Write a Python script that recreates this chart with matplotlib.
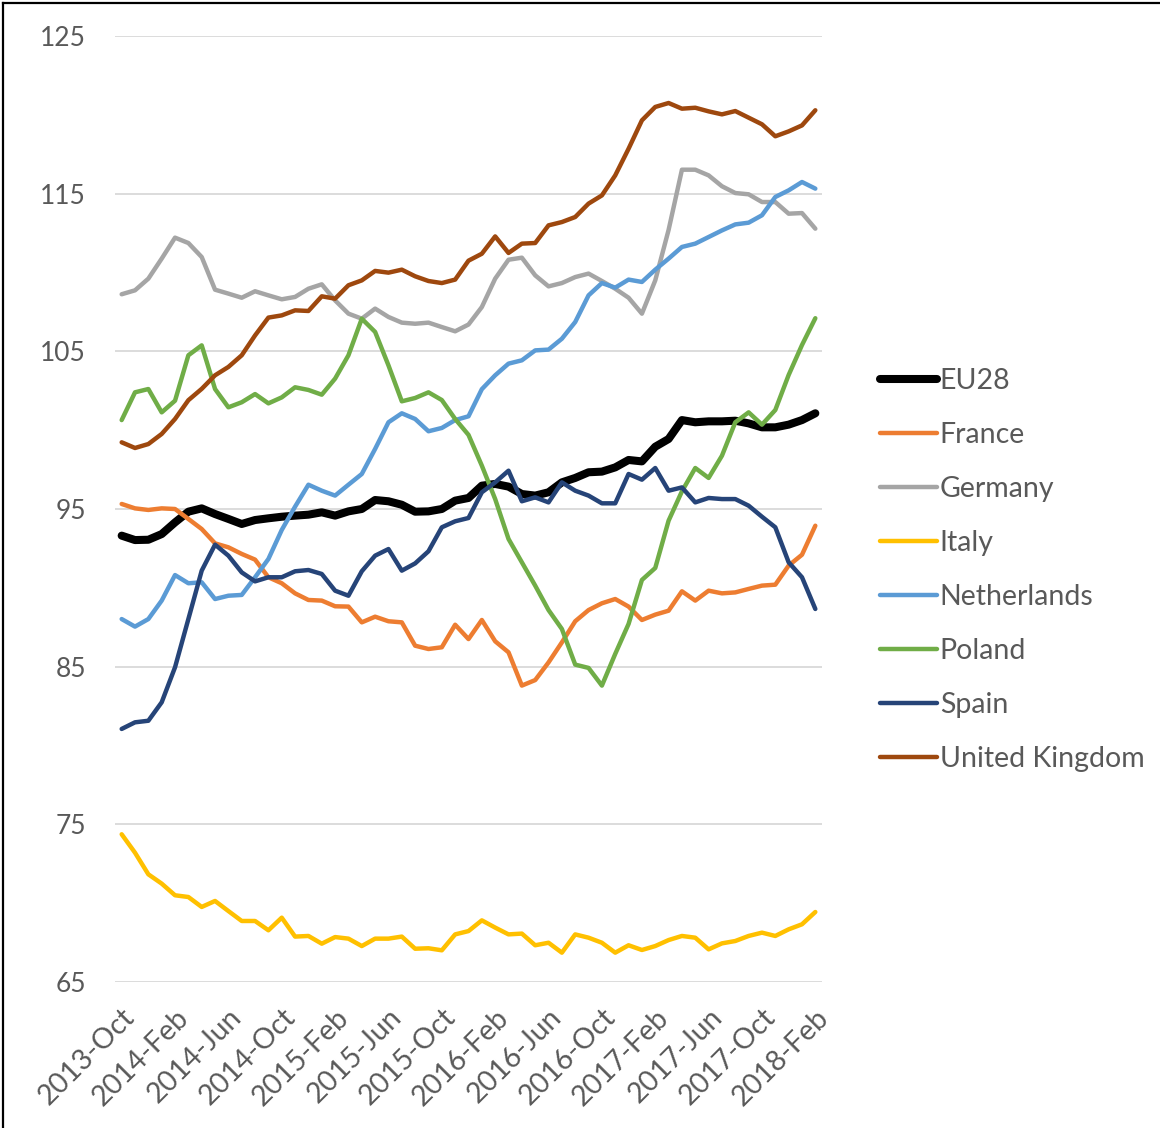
import numpy as np
import matplotlib.pyplot as plt
from matplotlib.lines import Line2D

plt.rcParams['font.family'] = ['Lato', 'DejaVu Sans']

# monthly index values, 2013-Oct .. 2018-Feb
months = ['Jan', 'Feb', 'Mar', 'Apr', 'May', 'Jun', 'Jul', 'Aug', 'Sep', 'Oct', 'Nov', 'Dec']
labels = []
for k in range(53):
    m = 9 + k
    labels.append(f"{2013 + m // 12}-{months[m % 12]}")

eu28 = [93.31, 93.03, 93.05, 93.41, 94.15, 94.83, 95.04, 94.68, 94.37, 94.05,
        94.30, 94.41, 94.51, 94.58, 94.64, 94.79, 94.58, 94.85, 95.00, 95.57,
        95.49, 95.27, 94.83, 94.85, 95.00, 95.53, 95.70, 96.48, 96.59, 96.42,
        95.95, 95.85, 96.06, 96.69, 96.97, 97.33, 97.37, 97.64, 98.11, 98.02,
        98.95, 99.44, 100.64, 100.50, 100.56, 100.56, 100.60, 100.43, 100.18, 100.18,
        100.35, 100.64, 101.07]
france = [95.32, 95.04, 94.94, 95.04, 95.00, 94.37, 93.73, 92.82, 92.57, 92.15,
          91.79, 90.67, 90.29, 89.65, 89.23, 89.19, 88.83, 88.81, 87.81, 88.17,
          87.88, 87.81, 86.33, 86.12, 86.23, 87.66, 86.75, 87.96, 86.61, 85.91,
          83.80, 84.15, 85.27, 86.54, 87.88, 88.59, 89.02, 89.29, 88.81, 87.96,
          88.30, 88.55, 89.78, 89.19, 89.82, 89.65, 89.71, 89.93, 90.14, 90.20,
          91.41, 92.10, 93.94]
germany = [108.62, 108.87, 109.61, 110.88, 112.21, 111.87, 110.98, 108.91, 108.66, 108.40,
           108.81, 108.55, 108.30, 108.45, 108.97, 109.25, 108.23, 107.39, 107.07, 107.71,
           107.18, 106.82, 106.75, 106.82, 106.54, 106.27, 106.70, 107.81, 109.61, 110.81,
           110.94, 109.82, 109.12, 109.33, 109.71, 109.93, 109.46, 108.97, 108.40, 107.39,
           109.50, 112.70, 116.52, 116.52, 116.16, 115.47, 115.04, 114.96, 114.47, 114.47,
           113.73, 113.77, 112.78]
italy = [74.37, 73.20, 71.83, 71.24, 70.50, 70.39, 69.76, 70.14, 69.50, 68.87,
         68.87, 68.28, 69.08, 67.88, 67.92, 67.43, 67.85, 67.75, 67.28, 67.75,
         67.75, 67.88, 67.11, 67.14, 67.01, 68.02, 68.23, 68.91, 68.45, 68.02,
         68.07, 67.33, 67.49, 66.86, 68.02, 67.81, 67.49, 66.86, 67.33, 67.03,
         67.28, 67.66, 67.92, 67.81, 67.07, 67.45, 67.60, 67.92, 68.13, 67.92,
         68.34, 68.66, 69.44]
netherlands = [88.02, 87.54, 88.02, 89.19, 90.81, 90.29, 90.35, 89.29, 89.50, 89.55,
               90.67, 91.83, 93.67, 95.15, 96.54, 96.16, 95.85, 96.54, 97.22, 98.81,
               100.50, 101.07, 100.71, 99.93, 100.14, 100.64, 100.88, 102.60, 103.48, 104.22,
               104.43, 105.06, 105.11, 105.80, 106.86, 108.55, 109.33, 109.04, 109.55, 109.40,
               110.18, 110.88, 111.62, 111.83, 112.25, 112.67, 113.05, 113.16, 113.63, 114.79,
               115.21, 115.74, 115.32]
poland = [100.64, 102.40, 102.61, 101.13, 101.87, 104.75, 105.38, 102.61, 101.45, 101.77,
          102.29, 101.70, 102.08, 102.72, 102.55, 102.25, 103.27, 104.75, 107.07, 106.23,
          104.11, 101.83, 102.04, 102.40, 101.91, 100.71, 99.70, 97.75, 95.63, 93.10,
          91.62, 90.14, 88.59, 87.39, 85.13, 84.92, 83.80, 85.81, 87.71, 90.50,
          91.26, 94.26, 96.12, 97.60, 96.97, 98.38, 100.50, 101.13, 100.35, 101.28,
          103.50, 105.40, 107.10]
spain = [81.05, 81.47, 81.57, 82.74, 84.96, 88.02, 91.09, 92.74, 92.04, 90.98,
         90.41, 90.67, 90.67, 91.05, 91.13, 90.88, 89.82, 89.50, 91.05, 92.04,
         92.46, 91.09, 91.55, 92.32, 93.84, 94.22, 94.43, 96.06, 96.69, 97.43,
         95.49, 95.74, 95.42, 96.69, 96.16, 95.85, 95.36, 95.36, 97.22, 96.86,
         97.60, 96.16, 96.37, 95.42, 95.70, 95.63, 95.63, 95.21, 94.51, 93.84,
         91.62, 90.67, 88.66]
uk = [99.23, 98.87, 99.12, 99.76, 100.71, 101.90, 102.62, 103.48, 104.01, 104.75,
      106.01, 107.14, 107.28, 107.60, 107.56, 108.49, 108.34, 109.19, 109.50, 110.10,
      109.99, 110.18, 109.76, 109.46, 109.33, 109.55, 110.75, 111.19, 112.29, 111.24,
      111.83, 111.87, 112.99, 113.20, 113.52, 114.37, 114.89, 116.16, 117.85, 119.65,
      120.50, 120.75, 120.39, 120.45, 120.22, 120.03, 120.24, 119.82, 119.40, 118.64,
      118.95, 119.33, 120.29]

series = [('EU28', eu28, '#000000', 5.8),
          ('France', france, '#ED7D31', 3.2),
          ('Germany', germany, '#A5A5A5', 3.2),
          ('Italy', italy, '#FFC000', 3.2),
          ('Netherlands', netherlands, '#5B9BD5', 3.2),
          ('Poland', poland, '#70AD47', 3.2),
          ('Spain', spain, '#264478', 3.2),
          ('United Kingdom', uk, '#9E480E', 3.2)]

fig = plt.figure(figsize=(11.6, 11.28), dpi=100)
ax = fig.add_axes([115 / 1160, 1 - 982 / 1128, 707 / 1160, 946 / 1128])

x = np.arange(len(labels))
for name, vals, col, lw in series:
    ax.plot(x, vals, color=col, lw=lw, solid_capstyle='round', solid_joinstyle='round',
            label=name, zorder=3)

ax.set_xlim(-0.5, len(labels) - 0.5)
ax.set_ylim(65, 125)
ax.set_yticks([65, 75, 85, 95, 105, 115, 125])
ax.set_xticks(x[::4])
ax.set_xticklabels(labels[::4], rotation=45, ha='right', va='top', rotation_mode='anchor')
ax.tick_params(axis='both', length=0, labelsize=19, labelcolor='#595959')
ax.tick_params(axis='y', pad=21)
ax.tick_params(axis='x', pad=16, labelsize=20.5)
ax.grid(axis='y', color='#D9D9D9', lw=1.3)
ax.set_axisbelow(True)
for s in ax.spines.values():
    s.set_visible(False)

handles = [Line2D([0], [0], color=c, lw=lw, solid_capstyle='round') for _, _, c, lw in series]
fig.legend(handles, [s[0] for s in series], loc='center left',
           bbox_to_anchor=(880 / 1160, 1 - 570 / 1128), frameon=False,
           fontsize=20.5, labelcolor='#595959', handlelength=2.0, handletextpad=0.1,
           labelspacing=0.98, borderpad=0, borderaxespad=0)

# chart-area frame (top and left edges visible)
fig.add_artist(Line2D([3 / 1160, 3 / 1160], [0, 1 - 3 / 1128], color='black', lw=1.6,
                      transform=fig.transFigure))
fig.add_artist(Line2D([3 / 1160, 1], [1 - 3 / 1128, 1 - 3 / 1128], color='black', lw=1.6,
                      transform=fig.transFigure))

fig.savefig('out.png', dpi=100)
